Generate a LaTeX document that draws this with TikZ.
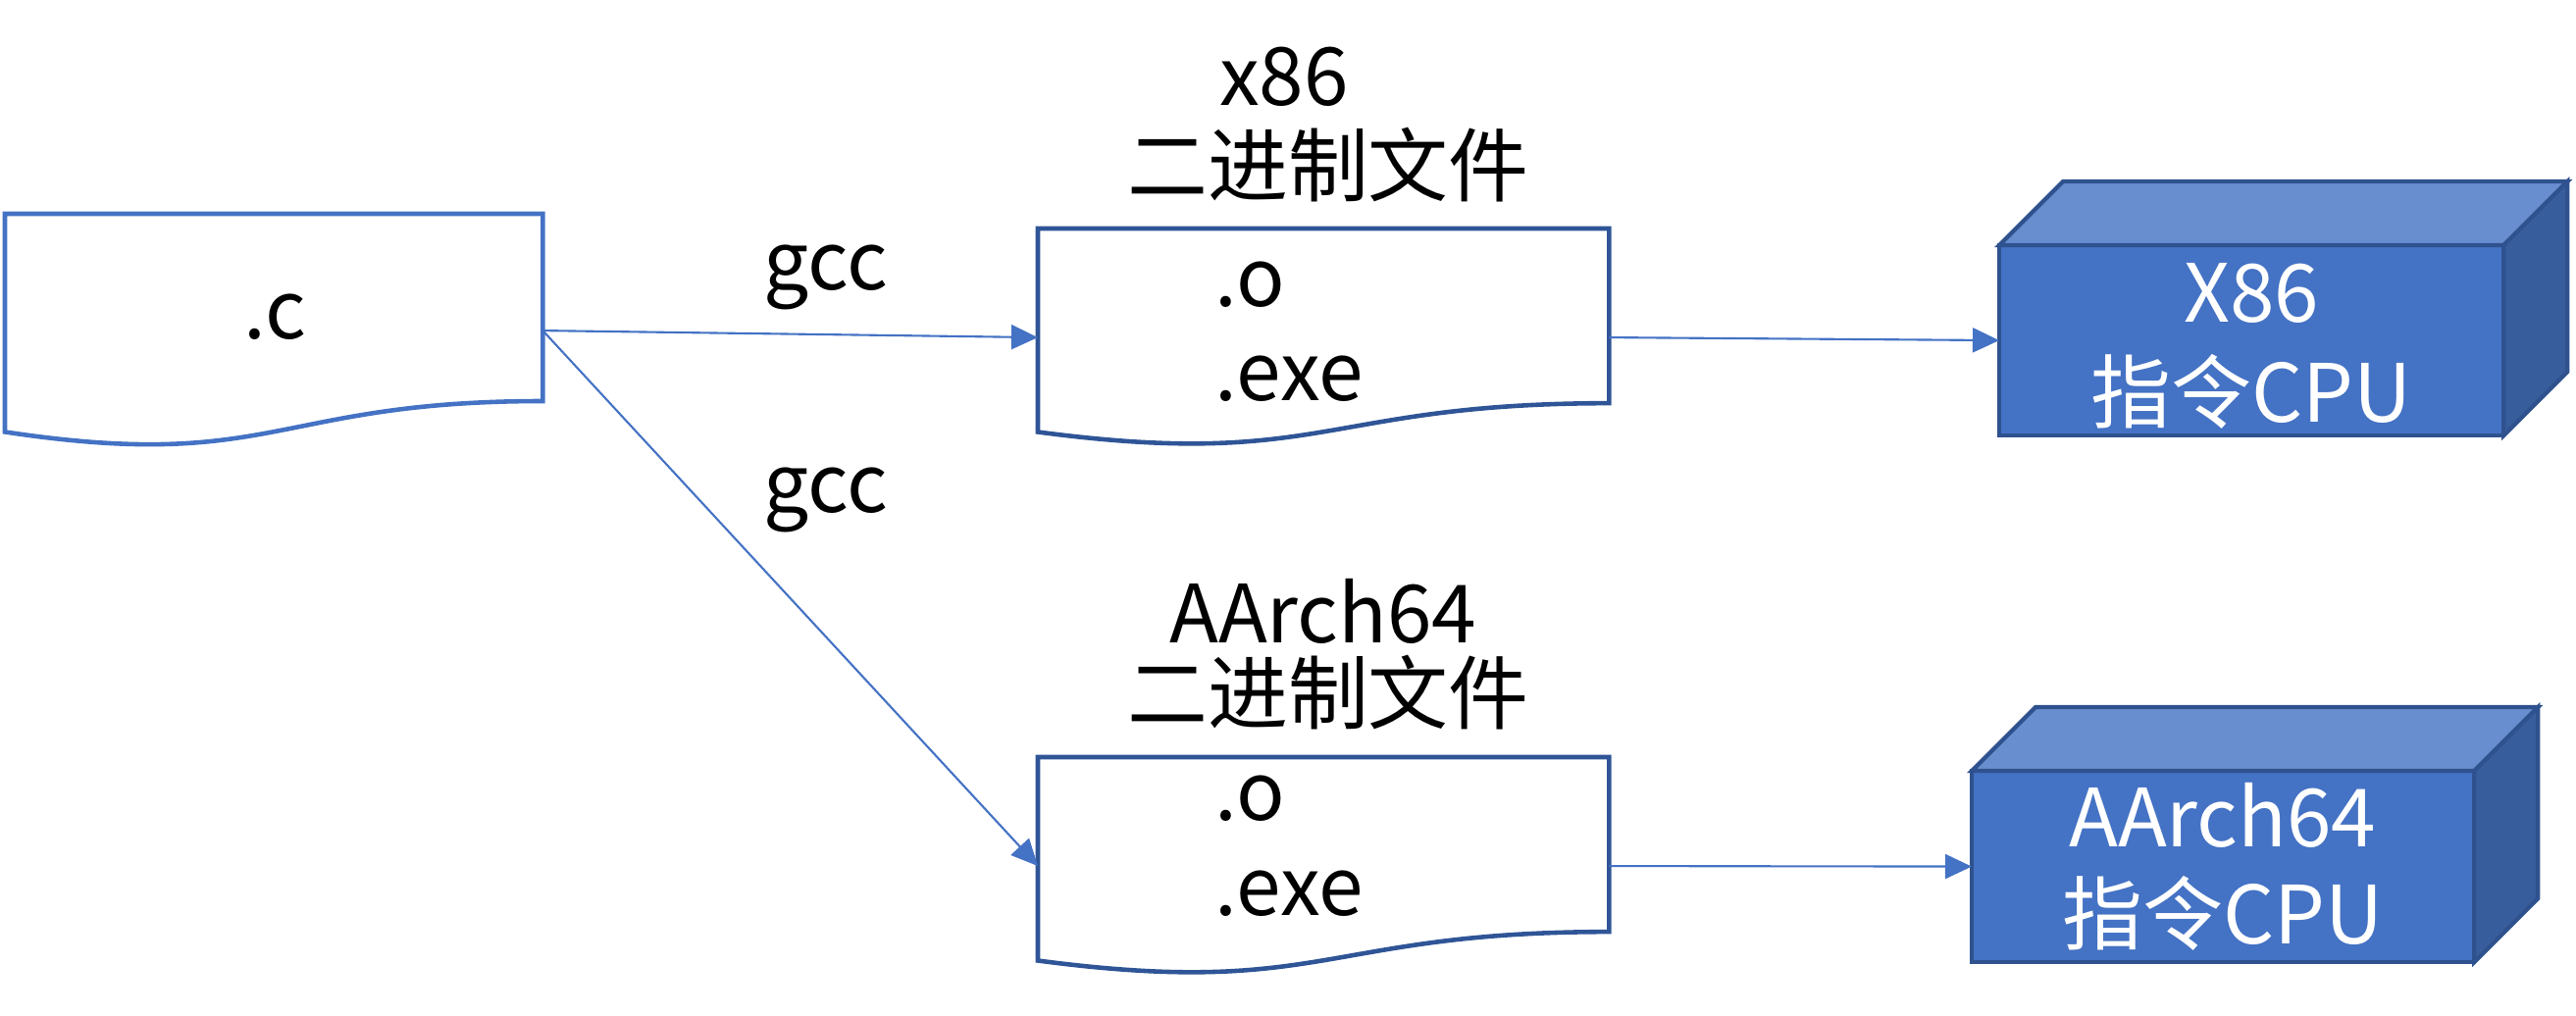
\documentclass[tikz,border=0pt]{standalone}
\usepackage{fontspec}
\setmainfont{Noto Sans CJK SC}
\usetikzlibrary{arrows.meta,calc}
\definecolor{lineblue}{HTML}{4472C4}
\definecolor{docdark}{HTML}{2F5597}
\definecolor{cubefront}{HTML}{4472C4}
\definecolor{cubetopc}{HTML}{698ED0}
\definecolor{cubesidec}{HTML}{385D9C}
\definecolor{cubeedge}{HTML}{2F528F}
\tikzset{
  box/.style={inner sep=0pt, outer sep=0pt, anchor=north west, draw=none},
  lbl/.style={inner sep=0pt, font=\fontsize{23.3}{28}\selectfont, anchor=base},
  lblw/.style={lbl, anchor=base west},
  conn/.style={draw=lineblue, line width=0.6pt, -{Triangle[length=0.27cm,width=0.25cm]}},
  docline/.style={line width=1.3pt, line join=miter, fill=white},
  cubeline/.style={draw=cubeedge, line width=1.2pt, line join=miter},
}
\newcommand\wavedoc[2]{%
  \draw[docline,#2] (#1.north west) -- (#1.north east)
    -- ($(#1.north east)!0.802!(#1.south east)$)
    .. controls ($(#1.north)!0.802!(#1.south)$) and ($(#1.north)!1.1075!(#1.south)$)
    .. ($(#1.north west)!0.934!(#1.south west)$) -- cycle;}
\newcommand\cubebox[1]{%
  \fill[cubefront] (#1.north west) rectangle (#1.south east);
  \draw[cubeline, fill=cubetopc] (#1.north west) -- ++(65,-65) -- ($(#1.north east)+(65,-65)$) -- (#1.north east) -- cycle;
  \draw[cubeline, fill=cubesidec] (#1.north east) -- ($(#1.north east)+(65,-65)$) -- ($(#1.south east)+(65,-65)$) -- (#1.south east) -- cycle;
  \draw[cubeline] (#1.north west) rectangle (#1.south east);}
\begin{document}
\begin{tikzpicture}[x=0.01cm, y=-0.01cm]
\useasboundingbox (0,0) rectangle (2626,1035);
% document shapes
\node[box, minimum width=5.48cm, minimum height=2.38cm] (cdoc) at (5,218) {};
\wavedoc{cdoc}{draw=lineblue}
\node[box, minimum width=5.82cm, minimum height=2.22cm] (xdoc) at (1058,233) {};
\wavedoc{xdoc}{draw=docdark}
\node[box, minimum width=5.82cm, minimum height=2.22cm] (adoc) at (1058,772) {};
\wavedoc{adoc}{draw=docdark}
% cubes
\node[box, minimum width=5.14cm, minimum height=1.94cm] (cpux) at (2038,250) {};
\cubebox{cpux}
\node[box, minimum width=5.12cm, minimum height=1.95cm] (cpua) at (2010,786) {};
\cubebox{cpua}
% texts
\node[lbl] (ctxt) at (280,345) {.c};
\node[lbl] (gcca) at (842,295) {gcc};
\node[lbl] (gccb) at (842,522) {gcc};
\node[lbl] (xtitle) at (1309,107) {x86};
\node[lbl] (xbin) at (1354,199) {二进制文件};
\node[lbl] (atitle) at (1349,655) {AArch64};
\node[lbl] (abin) at (1354,737) {二进制文件};
\node[lblw] (xo) at (1238,312) {.o};
\node[lblw] (xexe) at (1238,408) {.exe};
\node[lblw] (ao) at (1238,836) {.o};
\node[lblw] (aexe) at (1238,933) {.exe};
\node[lbl, text=white] (cxa) at (2295,328) {X86};
\node[lbl, text=white] (cxb) at (2295,430) {指令CPU};
\node[lbl, text=white] (caa) at (2266,863) {AArch64};
\node[lbl, text=white] (cab) at (2266,962) {指令CPU};
% connectors
\draw[conn] (cdoc.east) -- (xdoc.west);
\draw[conn] (cdoc.east) -- (adoc.west);
\draw[conn] (xdoc.east) -- (cpux.west);
\draw[conn] (adoc.east) -- (cpua.west);
\end{tikzpicture}
\end{document}
